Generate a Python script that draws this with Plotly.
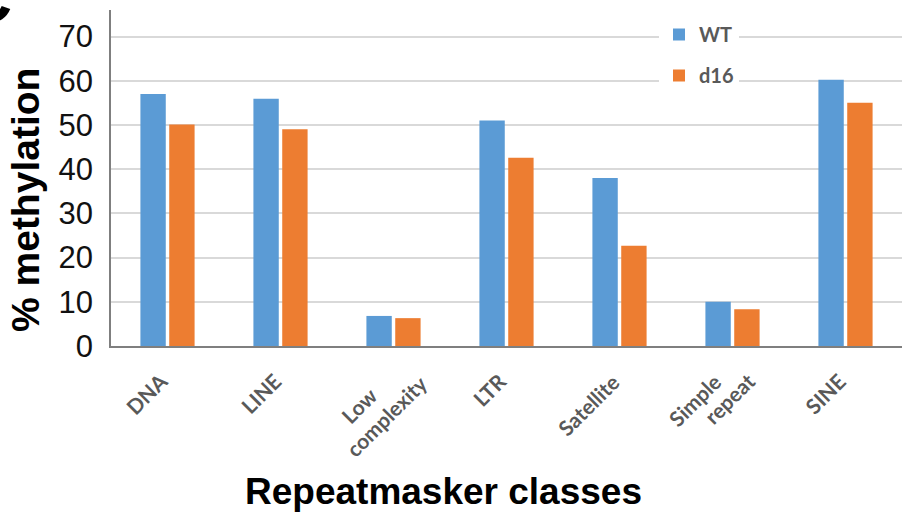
import plotly.graph_objects as go

categories = ["DNA", "LINE", "Low complexity", "LTR", "Satellite", "Simple repeat", "SINE"]
wt_values = [57.0, 55.9, 6.8, 51.0, 38.0, 10.0, 60.2]
d16_values = [50.1, 49.0, 6.3, 42.6, 22.7, 8.3, 55.0]
y_ticks = [0, 10, 20, 30, 40, 50, 60, 70]
# tick label lines for each category (as broken in the reference)
tick_label_lines = [["DNA"], ["LINE"], ["Low", "complexity"], ["LTR"], ["Satellite"],
                    ["Simple", "repeat"], ["SINE"]]

W, H = 902, 512
L, R, T, B = 111, 0, 10, 166
pw, ph = W - L - R, H - T - B

def px_x(x):
    return (x - L) / pw

def px_y(y):
    return (H - B - y) / ph

# layout of the rotated label lines: (x shift from category centre, top y in px)
label_line_layout = {
    ("Low", 0): (-11, 381), ("Low", 1): (40, 368),
    ("Simple", 0): (-5, 367), ("Simple", 1): (28, 367),
}

fig = go.Figure()
fig.add_trace(go.Bar(x=categories, y=wt_values, name="WT", marker_color="#5B9BD5",
                     marker_line_width=0, legendgroup="a"))
fig.add_trace(go.Bar(x=categories, y=d16_values, name="d16", marker_color="#ED7D31",
                     marker_line_width=0, legendgroup="b"))

annotations = [
    dict(text="<b>% methylation</b>", xref="paper", yref="paper",
         x=px_x(25), y=px_y(200), xanchor="center", yanchor="middle",
         textangle=-90, showarrow=False,
         font=dict(family="Arial", size=39, color="black")),
    dict(text="<b>Repeatmasker classes</b>", xref="paper", yref="paper",
         x=px_x(443), y=px_y(491), xanchor="center", yanchor="middle",
         showarrow=False,
         font=dict(family="Arial", size=37, color="black")),
    dict(text="<b>C</b>", xref="paper", yref="paper",
         x=px_x(14), y=px_y(38), xanchor="right", yanchor="bottom",
         showarrow=False,
         font=dict(family="Arial", size=68, color="black")),
]
for i, (cat, lines) in enumerate(zip(categories, tick_label_lines)):
    for j, line in enumerate(lines):
        shift, top = label_line_layout.get((lines[0], j), (6, 367))
        annotations.append(dict(
            text=line, xref="x", yref="paper", x=cat, y=px_y(top),
            xshift=shift, xanchor="right", yanchor="top", textangle=-45,
            showarrow=False, borderpad=0,
            font=dict(family="Lato", size=21, color="#595959", weight="bold"),
        ))

fig.update_layout(
    width=W, height=H,
    margin=dict(l=L, r=R, t=T, b=B, autoexpand=False),
    paper_bgcolor="white", plot_bgcolor="white",
    barmode="group", bargap=0.49, bargroupgap=0.12,
    showlegend=True,
    legend=dict(
        x=px_x(659), y=px_y(15), xanchor="left", yanchor="top",
        bgcolor="white", borderwidth=0,
        font=dict(family="Lato", size=20, color="#595959", weight="bold"),
        itemwidth=30, tracegroupgap=12, traceorder="grouped",
    ),
    xaxis=dict(
        automargin=False, showticklabels=False,
        showgrid=False, showline=True, linecolor="#7f7f7f", linewidth=1.5, ticks="",
    ),
    yaxis=dict(
        automargin=False,
        range=[0, 76], tickvals=y_ticks, showgrid=True, gridcolor="#d9d9d9", gridwidth=1.5,
        showline=True, linecolor="#7f7f7f", linewidth=1.5, zeroline=False, ticks="",
        tickfont=dict(family="Arial", size=31, color="#111111"),
        ticklabelstandoff=10,
    ),
    annotations=annotations,
)

fig.write_html("out.html", config={"displayModeBar": False},
               post_script="document.body.style.margin='0';document.body.style.overflow='hidden';")
